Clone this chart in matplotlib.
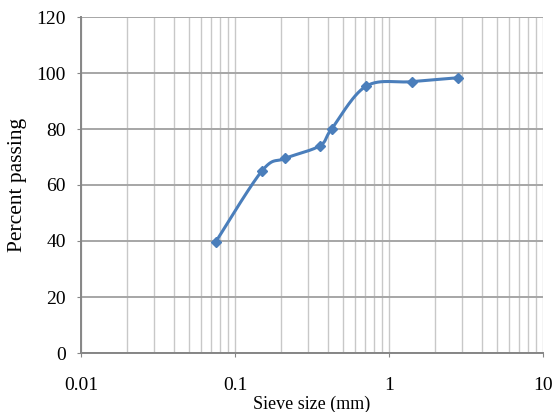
import matplotlib
matplotlib.use("Agg")
import matplotlib.pyplot as plt
from matplotlib.ticker import LogLocator, FixedLocator, NullFormatter
import numpy as np

sieve_mm = [0.075, 0.15, 0.212, 0.355, 0.425, 0.71, 1.4, 2.8]
passing = [39.7, 65.1, 69.5, 74.0, 80.1, 95.3, 96.9, 98.3]
x_ticks = [0.01, 0.1, 1, 10]
x_labels = ["0.01", "0.1", "1", "10"]
y_ticks = [0, 20, 40, 60, 80, 100, 120]

plt.rcParams['font.family'] = ['Liberation Serif', 'DejaVu Serif']

fig = plt.figure(figsize=(5.57, 4.12), dpi=100)
ax = fig.add_axes([81/557, 1-353/412, 462/557, 336/412])
ax.set_xscale('log')
ax.set_xlim(0.01, 10)
ax.set_ylim(0, 120)


def smooth(xs, ys, sx, sy, n=30):
    # Excel-style bezier smoothing in screen-proportional space
    P = np.column_stack([np.log10(xs) * sx, np.array(ys) * sy])
    out = [P[0]]
    for i in range(len(P) - 1):
        p0 = P[i - 1] if i > 0 else P[i]
        p1, p2 = P[i], P[i + 1]
        p3 = P[i + 2] if i + 2 < len(P) else P[i + 1]
        c1 = p1 + (p2 - p0) / 6
        c2 = p2 - (p3 - p1) / 6
        t = np.linspace(0, 1, n)[1:, None]
        seg = ((1-t)**3)*p1 + 3*((1-t)**2)*t*c1 + 3*(1-t)*t**2*c2 + t**3*p2
        out.extend(seg)
    out = np.array(out)
    return 10 ** (out[:, 0] / sx), out[:, 1] / sy


sx, sy = 462 / 3, 336 / 120
cx, cy = smooth(sieve_mm, passing, sx, sy)
blue = '#4A7EBB'
ax.plot(cx, cy, color=blue, lw=2.2, zorder=3, solid_capstyle='round')
ax.plot(sieve_mm, passing, linestyle='none', marker='D', ms=5.5,
        color=blue, zorder=4)

ax.xaxis.set_major_locator(FixedLocator(x_ticks))
ax.set_xticklabels(x_labels)
ax.xaxis.set_minor_locator(LogLocator(base=10, subs=np.arange(2, 10)))
ax.xaxis.set_minor_formatter(NullFormatter())
ax.set_yticks(y_ticks)

ax.grid(True, which='major', axis='x', color='#C8C8C8', lw=1.0)
ax.grid(True, which='minor', axis='x', color='#C8C8C8', lw=1.0)
ax.grid(True, which='major', axis='y', color='#A6A6A6', lw=1.4)
ax.set_axisbelow(True)

for side in ['top', 'right']:
    ax.spines[side].set_visible(False)
for side in ['left', 'bottom']:
    ax.spines[side].set_color('#868686')
    ax.spines[side].set_linewidth(1.4)

ax.tick_params(axis='y', which='major', length=3, color='#868686',
               labelsize=14, pad=8)
ax.tick_params(axis='x', which='major', length=3, color='#868686',
               labelsize=14, pad=14)
ax.tick_params(axis='x', which='minor', length=0)

ax.set_xlabel('Sieve size (mm)', fontsize=13)
ax.xaxis.set_label_coords(0.5, -0.128)
ax.set_ylabel('Percent passing', fontsize=15.5)
ax.yaxis.set_label_coords(-0.117, 0.5)

fig.savefig('out.png', dpi=100)
